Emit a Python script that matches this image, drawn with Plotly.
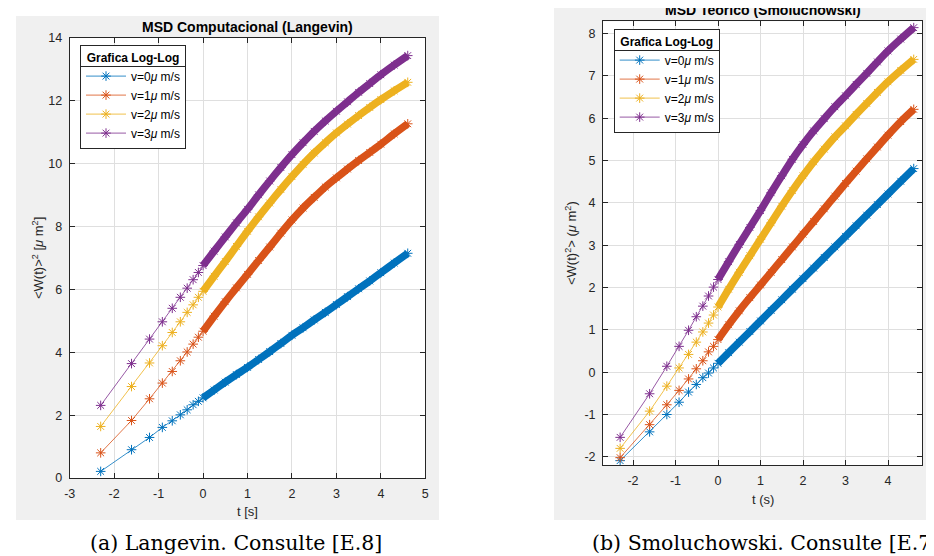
import plotly.graph_objects as go

W, H = 934, 556

# ln(t) sample positions (t = 0.1 ... 1.0, then along the dense band up to t = 100)
LOG_T = [-2.303, -1.609, -1.204, -0.916, -0.693, -0.511, -0.357, -0.223, -0.105, 0.0,
         0.25, 0.5, 0.75, 1.0, 1.25, 1.5, 1.75, 2.0, 2.25, 2.5, 2.75, 3.0,
         3.25, 3.5, 3.75, 4.0, 4.3, 4.605]
DENSE_FROM = 9  # index where markers overlap into a solid band

# Left panel: MSD Computacional (Langevin), ln<W(t)>^2
LANG_V0 = [0.21, 0.90, 1.29, 1.61, 1.82, 2.01, 2.17, 2.33, 2.44, 2.55,
           2.80, 3.05, 3.29, 3.52, 3.77, 4.02, 4.28, 4.54, 4.78, 5.03, 5.27, 5.52,
           5.77, 6.02, 6.27, 6.53, 6.84, 7.15]
LANG_V1 = [0.80, 1.83, 2.52, 3.02, 3.39, 3.73, 4.01, 4.26, 4.48, 4.67,
           5.15, 5.61, 6.05, 6.48, 6.92, 7.35, 7.79, 8.21, 8.59, 8.93, 9.26, 9.55,
           9.83, 10.10, 10.36, 10.62, 10.95, 11.27]
LANG_V2 = [1.64, 2.91, 3.66, 4.21, 4.63, 4.97, 5.27, 5.51, 5.75, 5.94,
           6.42, 6.89, 7.37, 7.85, 8.31, 8.75, 9.18, 9.59, 9.98, 10.34, 10.67, 10.98,
           11.26, 11.53, 11.79, 12.04, 12.32, 12.59]
LANG_V3 = [2.31, 3.64, 4.42, 4.97, 5.40, 5.75, 6.04, 6.31, 6.54, 6.76,
           7.22, 7.67, 8.12, 8.55, 9.01, 9.45, 9.88, 10.29, 10.67, 11.03, 11.36, 11.67,
           11.97, 12.27, 12.55, 12.83, 13.14, 13.44]

# Right panel: MSD Teorico (Smoluchowski), ln<W(t)^2>
SMOL_V0 = [-2.09, -1.41, -1.00, -0.71, -0.47, -0.29, -0.13, -0.02, 0.10, 0.21,
           0.46, 0.71, 0.96, 1.21, 1.46, 1.71, 1.96, 2.21, 2.46, 2.71, 2.96, 3.21,
           3.46, 3.71, 3.96, 4.21, 4.51, 4.81]
SMOL_V1 = [-2.02, -1.24, -0.77, -0.43, -0.16, 0.08, 0.27, 0.48, 0.61, 0.77,
           1.12, 1.45, 1.76, 2.06, 2.36, 2.66, 2.96, 3.26, 3.56, 3.86, 4.16, 4.46,
           4.75, 5.04, 5.32, 5.60, 5.92, 6.21]
SMOL_V2 = [-1.80, -0.92, -0.33, 0.10, 0.42, 0.71, 0.95, 1.16, 1.35, 1.54,
           1.96, 2.36, 2.75, 3.14, 3.53, 3.92, 4.29, 4.64, 4.97, 5.27, 5.56, 5.82,
           6.09, 6.35, 6.61, 6.86, 7.13, 7.39]
SMOL_V3 = [-1.54, -0.51, 0.14, 0.61, 0.99, 1.31, 1.56, 1.80, 2.01, 2.19,
           2.61, 3.02, 3.42, 3.82, 4.24, 4.64, 5.03, 5.38, 5.70, 5.99, 6.27, 6.53,
           6.80, 7.06, 7.33, 7.59, 7.87, 8.14]

SERIES_NAMES = ["v=0<i>μ</i> m/s", "v=1<i>μ</i> m/s", "v=2<i>μ</i> m/s", "v=3<i>μ</i> m/s"]
COLORS = ["#0072BD", "#D95319", "#EDB120", "#7E2F8E"]

LEFT_XTICKS = [-3, -2, -1, 0, 1, 2, 3, 4, 5]
LEFT_YTICKS = [0, 2, 4, 6, 8, 10, 12, 14]
RIGHT_XTICKS = [-2, -1, 0, 1, 2, 3, 4]
RIGHT_YTICKS = [-2, -1, 0, 1, 2, 3, 4, 5, 6, 7, 8]

FONT = "Liberation Sans, Arial, Helvetica, sans-serif"
SERIF = "DejaVu Serif, Liberation Serif, serif"
AXC = "#262626"
GRID = "#dfdfdf"


def px(x):
    return x / W


def py(y):
    return 1 - y / H


fig = go.Figure()

panels = [
    ("x", "y", "legend", [LANG_V0, LANG_V1, LANG_V2, LANG_V3]),
    ("x2", "y2", "legend2", [SMOL_V0, SMOL_V1, SMOL_V2, SMOL_V3]),
]
for xa, ya, lg, series in panels:
    for name, color, vals in zip(SERIES_NAMES, COLORS, series):
        fig.add_trace(go.Scatter(
            x=LOG_T[DENSE_FROM:], y=vals[DENSE_FROM:], mode="lines",
            line=dict(color=color, width=7.5, shape="spline", smoothing=0.6),
            showlegend=False, hoverinfo="skip", xaxis=xa, yaxis=ya))
        fig.add_trace(go.Scatter(
            x=LOG_T, y=vals, mode="lines+markers", name=name,
            line=dict(color=color, width=0.8),
            marker=dict(symbol="asterisk-open", size=8,
                        line=dict(color=color, width=1)),
            xaxis=xa, yaxis=ya, legend=lg))


def tick_strings(vals):
    return [str(v) for v in vals]


axis_common = dict(
    showgrid=True, gridcolor=GRID, gridwidth=1, zeroline=False,
    showline=True, linecolor=AXC, linewidth=1, mirror="ticks",
    ticks="inside", ticklen=5, tickcolor=AXC, tickwidth=1,
    tickfont=dict(family=FONT, size=12.5, color=AXC),
    ticklabelstandoff=4, automargin=False,
)

legend_common = dict(
    xanchor="left", yanchor="top",
    bgcolor="rgba(0,0,0,0)", bordercolor=AXC, borderwidth=1,
    font=dict(family=FONT, size=12, color="#000"),
    title=dict(text="<b>Grafica Log-Log</b>", side="top center",
               font=dict(family=FONT, size=12, color="#000")),
    itemwidth=40, tracegroupgap=0,
)

LEG1_X, LEG1_TOP = 72, 37
LEG2_X, LEG2_TOP = 605.7, 21
LEG_W, LEG_H = 106, 104  # approx legend box size (for its white fill and title separator)
SEP_DY = 21.5            # separator offset below the legend top

fig.update_layout(
    width=W, height=H,
    margin=dict(l=0, r=0, t=0, b=0, autoexpand=False),
    paper_bgcolor="white", plot_bgcolor="white",
    font=dict(family=FONT, color="#000000"),
    xaxis=dict(domain=[px(61.7), px(417.3)], anchor="y", range=[-3, 5],
               tickmode="array", tickvals=LEFT_XTICKS,
               ticktext=tick_strings(LEFT_XTICKS), **axis_common),
    yaxis=dict(domain=[py(470), py(30)], anchor="x", range=[0, 14],
               tickmode="array", tickvals=LEFT_YTICKS,
               ticktext=tick_strings(LEFT_YTICKS), **axis_common),
    xaxis2=dict(domain=[px(595), px(914.3)], anchor="y2", range=[-2.706, 4.807],
                tickmode="array", tickvals=RIGHT_XTICKS,
                ticktext=tick_strings(RIGHT_XTICKS), **axis_common),
    yaxis2=dict(domain=[py(457.3), py(13.3)], anchor="x2", range=[-2.2, 8.29],
                tickmode="array", tickvals=RIGHT_YTICKS,
                ticktext=tick_strings(RIGHT_YTICKS), **axis_common),
    legend=dict(x=px(LEG1_X), y=py(LEG1_TOP), **legend_common),
    legend2=dict(x=px(LEG2_X), y=py(LEG2_TOP), **legend_common),
)

# MATLAB figure backgrounds (grey) with white axes areas, legend fill + title separators
shapes = [
    dict(type="rect", xref="paper", yref="paper", x0=px(8), x1=px(431),
         y0=py(512), y1=py(8), fillcolor="#f0f0f0", line=dict(width=0), layer="below"),
    dict(type="rect", xref="paper", yref="paper", x0=px(546), x1=px(940),
         y0=py(512), y1=py(-5), fillcolor="#f0f0f0", line=dict(width=0), layer="below"),
    dict(type="rect", xref="paper", yref="paper", x0=px(61.7), x1=px(417.3),
         y0=py(470), y1=py(30), fillcolor="white", line=dict(width=0), layer="below"),
    dict(type="rect", xref="paper", yref="paper", x0=px(595), x1=px(914.3),
         y0=py(457.3), y1=py(13.3), fillcolor="white", line=dict(width=0), layer="below"),
]
for lx, lt in ((LEG1_X, LEG1_TOP), (LEG2_X, LEG2_TOP)):
    shapes.append(dict(type="rect", xref="paper", yref="paper",
                       x0=px(lx + 0.5), x1=px(lx + LEG_W - 0.5),
                       y0=py(lt + LEG_H - 0.5), y1=py(lt + 0.5),
                       fillcolor="white", line=dict(width=0), layer="above"))
    shapes.append(dict(type="line", xref="paper", yref="paper",
                       x0=px(lx + 0.5), x1=px(lx + LEG_W - 0.5),
                       y0=py(lt + SEP_DY), y1=py(lt + SEP_DY),
                       line=dict(color=AXC, width=1), layer="above"))
fig.update_layout(shapes=shapes)

ann = [
    dict(text="<b>MSD Computacional (Langevin)</b>", x=px(239.5), y=py(19),
         font=dict(family=FONT, size=14, color="#000")),
    dict(text="<b>MSD Teorico (Smoluchowski)</b>", x=px(754.7), y=py(2),
         font=dict(family=FONT, size=14, color="#000")),
    dict(text="t [s]", x=px(239.5), y=py(503),
         font=dict(family=FONT, size=13, color=AXC)),
    dict(text="t (s)", x=px(754.7), y=py(491.7),
         font=dict(family=FONT, size=13, color=AXC)),
    dict(text="&lt;W(t)&gt;<sup>2</sup> [<i>μ</i> m<sup>2</sup>]", x=px(30), y=py(250),
         textangle=-90, font=dict(family=FONT, size=13, color=AXC)),
    dict(text="&lt;W(t)<sup>2</sup>&gt; (<i>μ</i> m<sup>2</sup>)", x=px(563), y=py(235),
         textangle=-90, font=dict(family=FONT, size=13, color=AXC)),
    dict(text="(a) Langevin. Consulte [E.8]", x=px(228), y=py(535),
         font=dict(family=SERIF, size=20.5, color="#000")),
    dict(text="(b) Smoluchowski. Consulte [E.7]", x=px(582), y=py(535), xanchor="left",
         font=dict(family=SERIF, size=20.5, color="#000")),
]
for a in ann:
    a.setdefault("xanchor", "center")
    a.setdefault("yanchor", "middle")
    a.update(xref="paper", yref="paper", showarrow=False)
fig.update_layout(annotations=ann)

fig.write_html("out.html")
